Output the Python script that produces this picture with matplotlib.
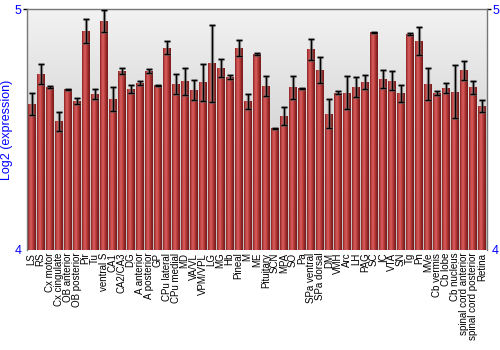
import numpy as np
import matplotlib
matplotlib.use("Agg")
import matplotlib.pyplot as plt
from matplotlib.colors import LinearSegmentedColormap

plt.rcParams['font.family'] = ['Liberation Sans', 'DejaVu Sans']

regions = ["LS", "RS", "Cx motor", "Cx cingulate", "OB anterior", "OB posterior",
           "Pir", "Tu", "ventral S", "CA1", "CA2/CA3", "DG", "A anterior",
           "A posterior", "GP", "CPu lateral", "CPu medial", "MD", "VA/VL",
           "VPM/VPL", "LG", "MG", "Hb", "Pineal", "M", "ME", "Pituitary", "SCN",
           "MPA", "SO", "Pa", "SPa ventral", "SPa dorsal", "DM", "VMH", "Arc",
           "LH", "PAG", "SC", "IC", "VTA", "SN", "Tg", "Pn", "MVe", "Cb vermis",
           "Cb lobe", "Cb nucleus", "spinal cord anterior",
           "spinal cord posterior", "Retina"]

expr = [4.607, 4.731, 4.679, 4.535, 4.668, 4.618, 4.909, 4.648, 4.952, 4.628,
        4.745, 4.669, 4.693, 4.743, 4.685, 4.841, 4.689, 4.701, 4.666, 4.697,
        4.776, 4.757, 4.719, 4.839, 4.618, 4.815, 4.682, 4.505, 4.557, 4.676,
        4.673, 4.834, 4.748, 4.566, 4.653, 4.654, 4.676, 4.697, 4.906, 4.710,
        4.703, 4.652, 4.898, 4.868, 4.691, 4.653, 4.675, 4.657, 4.747, 4.676,
        4.600]

err = [0.044, 0.043, 0.004, 0.040, 0.003, 0.012, 0.050, 0.021, 0.044, 0.049,
       0.012, 0.016, 0.008, 0.008, 0.002, 0.028, 0.042, 0.056, 0.041, 0.076,
       0.160, 0.036, 0.010, 0.032, 0.031, 0.003, 0.042, 0.003, 0.036, 0.047,
       0.002, 0.044, 0.053, 0.060, 0.006, 0.069, 0.041, 0.029, 0.002, 0.037,
       0.040, 0.035, 0.006, 0.059, 0.066, 0.008, 0.021, 0.110, 0.040, 0.026,
       0.025]

fig = plt.figure(figsize=(5, 3.5), dpi=100)
ax = fig.add_axes([0.054, 0.286, 0.919, 0.687])

ymin, ymax = 4, 5
x = np.arange(len(regions))
ax.set_xlim(-0.5, len(regions) - 0.5)
ax.set_ylim(ymin, ymax)

# background gradient (light at top, darker at bottom)
bg = np.linspace(0, 1, 256).reshape(-1, 1)
bg_cmap = LinearSegmentedColormap.from_list("bg", ["#f2f2f2", "#d8d8d8", "#bfbfbf"])
ax.imshow(bg, extent=[-0.5, len(regions) - 0.5, ymin, ymax], aspect='auto',
          cmap=bg_cmap, zorder=0)

bars = ax.bar(x, np.array(expr) - ymin, bottom=ymin, width=0.86,
              color="#b33a3a", zorder=1)

# cylindrical shading on bars
red_cmap = LinearSegmentedColormap.from_list(
    "red", ["#842020", "#c84a4a", "#d65e5e", "#bb3e3e", "#922626", "#751a1a"])
grad = np.linspace(0, 1, 64).reshape(1, -1)
for b in bars:
    x0 = b.get_x()
    w = b.get_width()
    im = ax.imshow(grad, extent=[x0, x0 + w, ymin, b.get_y() + b.get_height()],
                   aspect='auto', cmap=red_cmap, zorder=2)
    im.set_clip_path(b)

# error bars: gray halo then black
ax.errorbar(x, expr, yerr=err, fmt='none', ecolor="#777777", elinewidth=2.4,
            capsize=2.5, capthick=2.2, alpha=0.6, zorder=3)
ax.errorbar(x, expr, yerr=err, fmt='none', ecolor="black", elinewidth=1,
            capsize=2.2, capthick=1, zorder=4)

ax.set_xticks(x)
ax.set_xticklabels(regions, rotation=90, fontsize=7)
ax.tick_params(axis='x', length=0, pad=2)

ax.set_yticks([4, 5])
ax.set_yticklabels(["4", "5"], color="blue", fontsize=9)
ax.tick_params(axis='y', length=3, width=1, pad=1, color="black",
               left=True, right=True, labelleft=True, labelright=True)
t4 = ax.yaxis.get_major_ticks()[0]
t4.tick1line.set_visible(False)
t4.tick2line.set_visible(False)
ax.set_ylabel("Log2 (expression)", color="blue", fontsize=9, labelpad=1)

for side in ["left", "top", "right"]:
    ax.spines[side].set_color("#777777")
    ax.spines[side].set_linewidth(1)
ax.spines["bottom"].set_visible(False)

fig.savefig("out.png", dpi=100)
